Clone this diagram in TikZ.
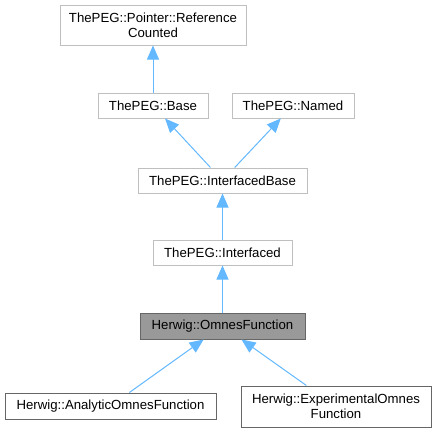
\documentclass[tikz,border=0pt]{standalone}
\usepackage{fontspec}
\setmainfont{Liberation Sans}
\usetikzlibrary{arrows.meta}
\definecolor{lightborder}{HTML}{BFBFBF}
\definecolor{darkborder}{HTML}{666666}
\definecolor{hlfill}{HTML}{999999}
\definecolor{edgeblue}{HTML}{63B8FF}
\begin{document}
\begin{tikzpicture}[x=1pt,y=-1pt,
  cls/.style={draw=lightborder,line width=1pt,fill=white,inner sep=0pt,align=center,
    font=\fontsize{13.2}{15}\selectfont,text=black},
  clsdark/.style={cls,draw=darkborder},
  clshl/.style={cls,draw=darkborder,fill=hlfill},
  inh/.style={draw=edgeblue,line width=1pt,-{Triangle[length=14pt,width=12pt,fill=edgeblue]}}]
\useasboundingbox (0,0) rectangle (437,432);
\node[cls,minimum width=186pt,minimum height=40pt] (rc) at (153,25) {ThePEG::Pointer::Reference\\Counted};
\node[cls,minimum width=110pt,minimum height=25pt] (base) at (153,105.5) {ThePEG::Base};
\node[cls,minimum width=122pt,minimum height=25pt] (named) at (293,105.5) {ThePEG::Named};
\node[cls,minimum width=169pt,minimum height=25pt] (ib) at (222.5,180.5) {ThePEG::InterfacedBase};
\node[cls,minimum width=139pt,minimum height=25pt] (itf) at (222.5,252.5) {ThePEG::Interfaced};
\node[clshl,minimum width=165pt,minimum height=26pt] (of) at (222.5,326) {Herwig::OmnesFunction};
\node[clsdark,minimum width=211pt,minimum height=26pt] (aof) at (110.5,406) {Herwig::AnalyticOmnesFunction};
\node[clsdark,minimum width=190pt,minimum height=41pt] (eof) at (336,406.5) {Herwig::ExperimentalOmnes\\Function};
\draw[inh] (base) -- (rc);
\draw[inh] (ib) -- (base);
\draw[inh] (ib) -- (named);
\draw[inh] (itf) -- (ib);
\draw[inh] (of) -- (itf);
\draw[inh] (aof) -- (of);
\draw[inh] (eof) -- (of);
\end{tikzpicture}
\end{document}
